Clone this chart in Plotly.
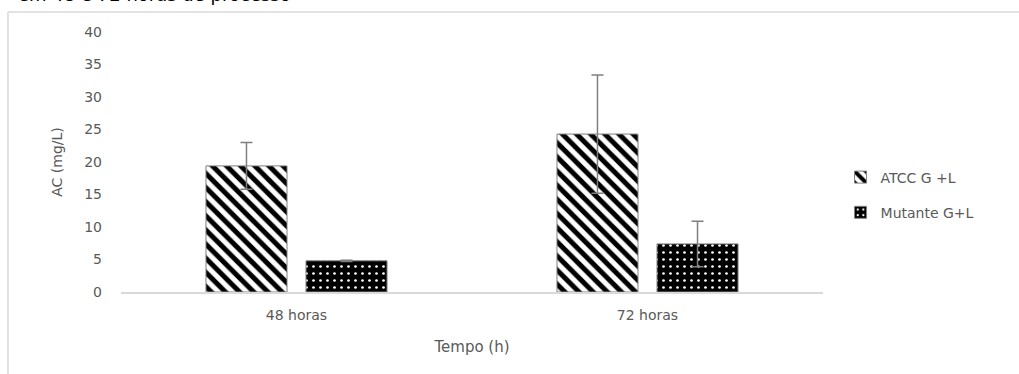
import plotly.graph_objects as go

categories = ["48 horas", "72 horas"]
atcc_values = [19.4, 24.3]
atcc_err = [3.6, 9.1]
mutante_values = [4.8, 7.4]
mutante_err = [0.1, 3.5]
y_ticks = [0, 5, 10, 15, 20, 25, 30, 35, 40]

FONT = "DejaVu Sans"
GREY = "#595959"

fig = go.Figure()
fig.add_trace(go.Bar(
    name="ATCC G +L", x=categories, y=atcc_values,
    error_y=dict(type="data", array=atcc_err, color="#7f7f7f", thickness=1.5, width=6),
    marker=dict(color="white", line=dict(color="#808080", width=1),
                pattern=dict(shape="\\", fgcolor="black", bgcolor="white", size=10,
                             solidity=0.5, fgopacity=1)),
    legendgroup="a",
))
fig.add_trace(go.Bar(
    name="Mutante G+L", x=categories, y=mutante_values,
    error_y=dict(type="data", array=mutante_err, color="#7f7f7f", thickness=1.5, width=6),
    marker=dict(color="black", line=dict(color="#808080", width=1),
                pattern=dict(shape=".", fgcolor="white", bgcolor="black", size=7,
                             solidity=0.12, fgopacity=1)),
    legendgroup="b",
))

fig.update_layout(
    width=1019, height=374,
    margin=dict(l=121, r=196, t=32, b=82),
    paper_bgcolor="white", plot_bgcolor="white",
    font=dict(family=FONT, size=13, color=GREY),
    barmode="group", bargap=0.43, bargroupgap=0.19,
    showlegend=True,
    legend=dict(x=1.025, y=0.373, xanchor="left", yanchor="middle",
                traceorder="grouped", tracegroupgap=14,
                font=dict(family=FONT, size=14, color=GREY)),
    xaxis=dict(showline=True, linecolor="#d9d9d9", linewidth=1.5, ticks="",
               showgrid=False, tickfont=dict(size=14, color=GREY),
               ticklabelstandoff=9,
               title=dict(text="Tempo (h)", font=dict(size=15, color=GREY), standoff=20)),
    yaxis=dict(range=[0, 40], tickvals=y_ticks, showgrid=False, zeroline=False,
               showline=False, ticks="", tickfont=dict(size=14, color=GREY),
               ticklabelstandoff=18,
               title=dict(text="AC (mg/L)", font=dict(size=14, color=GREY), standoff=18)),
    shapes=[
        dict(type="line", xref="paper", yref="paper", x0=-0.161, x1=1.3,
             y0=1.077, y1=1.077, line=dict(color="#d9d9d9", width=1.5)),
        dict(type="line", xref="paper", yref="paper", x0=-0.161, x1=-0.161,
             y0=1.077, y1=-0.4, line=dict(color="#d9d9d9", width=1.5)),
    ],
    annotations=[
        dict(text="em 48 e 72 horas de processo", xref="paper", yref="paper",
             x=-0.15, y=1.095, xanchor="left", yanchor="bottom", showarrow=False,
             font=dict(family=FONT, size=18, color="black")),
    ],
)

fig.write_html("out.html")
